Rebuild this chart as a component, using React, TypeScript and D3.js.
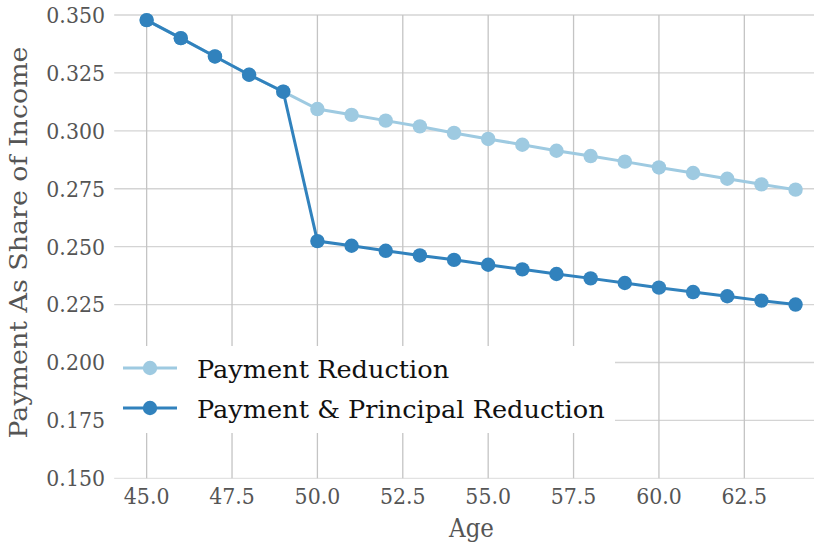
import React from "react";
import * as d3 from "d3";

const ages = [45, 46, 47, 48, 49, 50, 51, 52, 53, 54, 55, 56, 57, 58, 59, 60, 61, 62, 63, 64];
const paymentReduction = [
  0.3478, 0.340, 0.3321, 0.3242, 0.3169, 0.3094, 0.3069, 0.3044, 0.3019, 0.2991,
  0.2965, 0.2940, 0.2914, 0.2891, 0.2867, 0.2842, 0.2818, 0.2793, 0.2769, 0.2746,
];
const paymentPrincipalReduction = [
  0.3478, 0.340, 0.3321, 0.3242, 0.3169, 0.2524, 0.2504, 0.2482, 0.2462, 0.2443,
  0.2422, 0.2402, 0.2382, 0.2363, 0.2343, 0.2323, 0.2304, 0.2286, 0.2267, 0.2250,
];
const xTicks = [45.0, 47.5, 50.0, 52.5, 55.0, 57.5, 60.0, 62.5];
const yTicks = [0.15, 0.175, 0.2, 0.225, 0.25, 0.275, 0.3, 0.325, 0.35];
const seriesNames = ["Payment Reduction", "Payment & Principal Reduction"];
const seriesColors = ["#9ecae1", "#3182bd"];

const W = 814;
const H = 546;
const FONT = "'DejaVu Serif', serif";

export default function App() {
  const x = d3.scaleLinear().domain([44.05, 64.95]).range([114.2, 828]);
  const y = d3.scaleLinear().domain([0.15, 0.35]).range([478.3, 15]);
  const series = [paymentReduction, paymentPrincipalReduction];
  const line = d3
    .line<[number, number]>()
    .x((d) => x(d[0]))
    .y((d) => y(d[1]));

  return (
    <svg
      width={W}
      height={H}
      style={{ position: "absolute", left: 0, top: 0, background: "#fff" }}
      fontFamily={FONT}
    >
      <rect x={0} y={0} width={W} height={H} fill="#fff" />
      {/* grid */}
      {yTicks.map((t) => (
        <line
          key={"gy" + t}
          x1={x.range()[0]}
          x2={W}
          y1={y(t)}
          y2={y(t)}
          stroke={t === 0.15 ? "#e2e2e2" : "#d4d4d4"}
          strokeWidth={1.3}
        />
      ))}
      {xTicks.map((t) => (
        <line
          key={"gx" + t}
          x1={x(t)}
          x2={x(t)}
          y1={y(0.35)}
          y2={y(0.15)}
          stroke="#c4c4c4"
          strokeWidth={1.3}
        />
      ))}
      {/* legend box background */}
      <rect x={113} y={346} width={502} height={87} fill="#fff" />
      {/* series */}
      {series.map((vals, si) => {
        const pts: [number, number][] = ages.map((a, i) => [a, vals[i]]);
        return (
          <g key={"s" + si}>
            <path d={line(pts) || ""} fill="none" stroke={seriesColors[si]} strokeWidth={3} />
            {pts.map((p, i) => (
              <circle key={i} cx={x(p[0])} cy={y(p[1])} r={7.2} fill={seriesColors[si]} />
            ))}
          </g>
        );
      })}
      {/* y tick labels */}
      {yTicks.map((t) => (
        <text
          key={"ty" + t}
          transform={`translate(105,${y(t)}) scale(1,1.07)`}
          dy="0.36em"
          textAnchor="end"
          fontSize={20.5}
          fill="#555555"
        >
          {d3.format(".3f")(t)}
        </text>
      ))}
      {/* x tick labels */}
      {xTicks.map((t) => (
        <text
          key={"tx" + t}
          transform={`translate(${x(t)},496.5) scale(1,1.07)`}
          dy="0.36em"
          textAnchor="middle"
          fontSize={20.5}
          fill="#555555"
        >
          {d3.format(".1f")(t)}
        </text>
      ))}
      {/* axis labels */}
      <text
        transform="translate(471.5,537) scale(1,1.13)"
        textAnchor="middle"
        fontSize={23}
        fill="#555555"
      >
        Age
      </text>
      <text
        transform={`translate(27.3,242.5) rotate(-90) scale(1.12,1)`}
        textAnchor="middle"
        fontSize={24}
        fill="#555555"
      >
        Payment As Share of Income
      </text>
      {/* legend */}
      {seriesNames.map((name, i) => (
        <g key={"lg" + i} transform={`translate(0,${368 + i * 40})`}>
          <line x1={123} x2={177} y1={0} y2={0} stroke={seriesColors[i]} strokeWidth={3} />
          <circle cx={150} cy={0} r={7.2} fill={seriesColors[i]} />
          <text
            transform="translate(197,10.3) scale(1,0.93)"
            fontSize={25.6}
            fill="#111"
          >
            {name}
          </text>
        </g>
      ))}
    </svg>
  );
}
